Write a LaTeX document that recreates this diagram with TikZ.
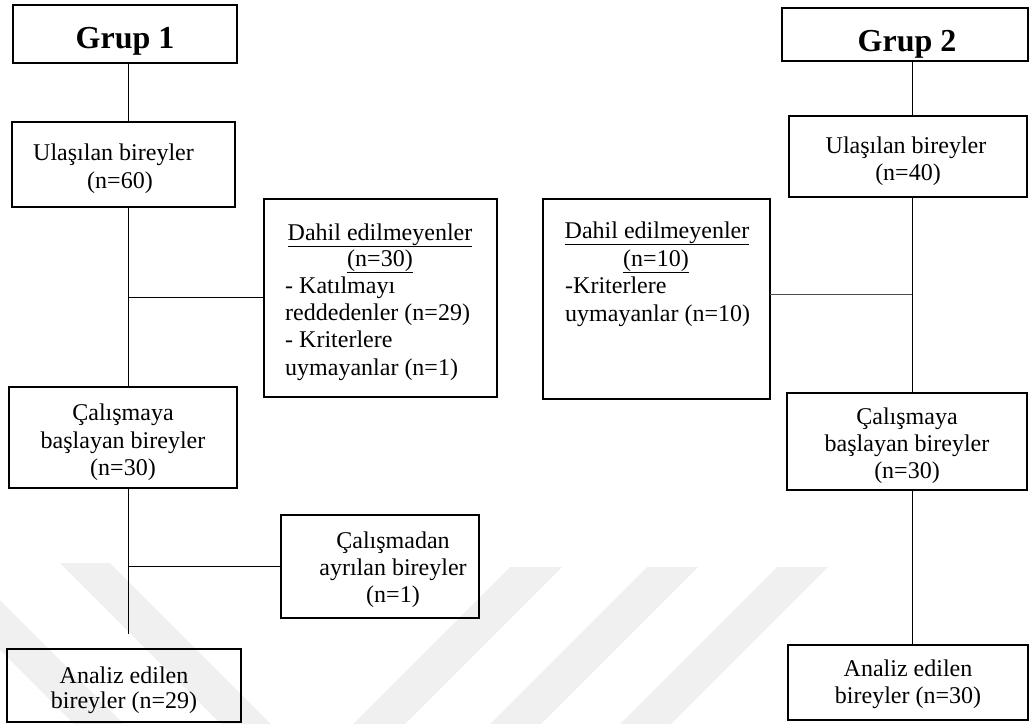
\documentclass[tikz,border=0pt]{standalone}
\usepackage{fontspec}
\setmainfont{Liberation Serif}
\begin{document}
\begin{tikzpicture}[x=1pt,y=-1pt,
  box/.style={draw=black,line width=2.2pt,rectangle,inner sep=0pt,outer sep=0pt},
  txt/.style={anchor=base,inner sep=0pt,font=\fontsize{24}{27}\selectfont},
  ltxt/.style={txt,anchor=base west},
  head/.style={anchor=base,inner sep=0pt,font=\fontsize{32}{36}\selectfont\bfseries},
  conn/.style={draw=black,line width=1pt},
  wmark/.style={fill=black!6,draw=none}]
\useasboundingbox (0,0) rectangle (1033,724);
% faint watermark
\fill[wmark] (60,563) -- (110,563) -- (271,724) -- (221,724) -- cycle;
\fill[wmark] (0,600) -- (0,650) -- (74,724) -- (124,724) -- cycle;
\fill[wmark] (510,567) -- (562,567) -- (405,724) -- (353,724) -- cycle;
\fill[wmark] (647,567) -- (698,567) -- (541,724) -- (490,724) -- cycle;
\fill[wmark] (777,567) -- (828,567) -- (671,724) -- (620,724) -- cycle;
% boxes
\node[box,minimum width=224,minimum height=58] (grup1) at (125,34) {};
\node[box,minimum width=223,minimum height=85] (ul1) at (123.5,164.5) {};
\node[box,minimum width=233,minimum height=198] (dahil1) at (380.5,298) {};
\node[box,minimum width=228,minimum height=101] (cal1) at (123,437.5) {};
\node[box,minimum width=198,minimum height=103] (ayr1) at (380,566.5) {};
\node[box,minimum width=234,minimum height=73] (an1) at (124,685.5) {};
\node[box,minimum width=246,minimum height=53] (grup2) at (905,34.5) {};
\node[box,minimum width=238,minimum height=81] (ul2) at (908,156.5) {};
\node[box,minimum width=227,minimum height=200] (dahil2) at (656.5,299) {};
\node[box,minimum width=240,minimum height=97] (cal2) at (907,441.5) {};
\node[box,minimum width=240,minimum height=75] (an2) at (908,682.5) {};
% texts
\node[head] (tg1) at (125,48) {Grup 1};
\node[head] (tg2) at (907,51) {Grup 2};
\node[ltxt] (tu1a) at (33,160) {Ulaşılan bireyler};
\node[txt] (tu1b) at (120,188) {(n=60)};
\node[txt] (tu2a) at (906,153) {Ulaşılan bireyler};
\node[txt] (tu2b) at (908,180) {(n=40)};
\node[txt] (td1a) at (380,240) {\underline{Dahil edilmeyenler}};
\node[txt] (td1b) at (380,266) {\underline{(n=30)}};
\node[ltxt] (td1c) at (285,293) {- Katılmayı};
\node[ltxt] (td1d) at (285,320) {reddedenler (n=29)};
\node[ltxt] (td1e) at (285,347) {- Kriterlere};
\node[ltxt] (td1f) at (285,375) {uymayanlar (n=1)};
\node[txt] (td2a) at (657,238) {\underline{Dahil edilmeyenler}};
\node[txt] (td2b) at (656,266) {\underline{(n=10)}};
\node[ltxt] (td2c) at (565,293) {-Kriterlere};
\node[ltxt] (td2d) at (565,321) {uymayanlar (n=10)};
\node[txt] (tc1a) at (123,420) {Çalışmaya};
\node[txt] (tc1b) at (123,448) {başlayan bireyler};
\node[txt] (tc1c) at (123,475) {(n=30)};
\node[txt] (tc2a) at (907,424) {Çalışmaya};
\node[txt] (tc2b) at (907,451) {başlayan bireyler};
\node[txt] (tc2c) at (907,478) {(n=30)};
\node[txt] (ta1a) at (393,548) {Çalışmadan};
\node[txt] (ta1b) at (393,575) {ayrılan bireyler};
\node[txt] (ta1c) at (393,602) {(n=1)};
\node[txt] (tn1a) at (124,683) {Analiz edilen};
\node[txt] (tn1b) at (124,708) {bireyler (n=29)};
\node[txt] (tn2a) at (908,676) {Analiz edilen};
\node[txt] (tn2b) at (908,703) {bireyler (n=30)};
% connectors
\coordinate (v1) at (128,0);
\coordinate (v2) at (912,0);
\coordinate (h1) at (0,297);
\coordinate (h2) at (0,566);
\coordinate (h3) at (0,294);
\coordinate (end1) at (128,634);
\draw[conn] (v1 |- grup1.south) -- (v1 |- ul1.north);
\draw[conn] (v1 |- ul1.south) -- (v1 |- cal1.north);
\draw[conn] (v1 |- h1) -- (dahil1.west |- h1);
\draw[conn] (v1 |- cal1.south) -- (end1);
\draw[conn] (v1 |- h2) -- (ayr1.west |- h2);
\draw[conn] (v2 |- grup2.south) -- (v2 |- ul2.north);
\draw[conn] (v2 |- ul2.south) -- (v2 |- cal2.north);
\draw[conn] (v2 |- cal2.south) -- (v2 |- an2.north);
\draw[conn,draw=black!70] (dahil2.east |- h3) -- (v2 |- h3);
\end{tikzpicture}
\end{document}
